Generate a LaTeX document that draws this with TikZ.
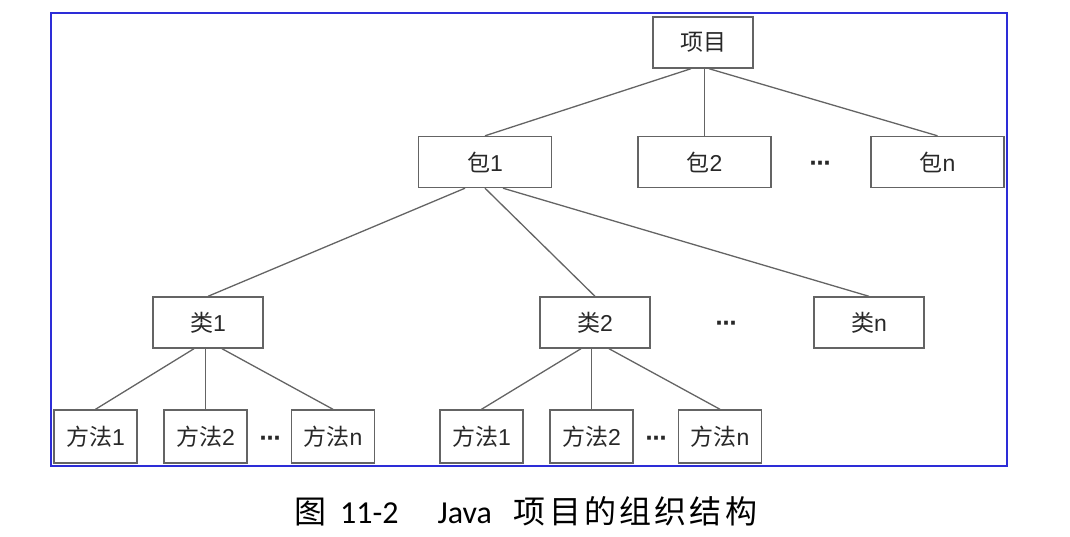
\documentclass[tikz,border=0pt]{standalone}
\usepackage{fontspec}
\setmainfont{Liberation Sans}
\newfontfamily\cjk{Noto Sans CJK SC}
\newfontfamily\capcjk[LetterSpace=10]{Noto Sans CJK SC}
\newfontfamily\capfont{Carlito}
\newfontfamily\dotfont{DejaVu Sans}
\usetikzlibrary{positioning}
\definecolor{framecol}{RGB}{45,45,215}
\definecolor{boxcol}{RGB}{100,100,100}
\definecolor{labelcol}{RGB}{40,40,40}
\newcommand{\zh}[1]{{\cjk #1}}

\begin{document}
\begin{tikzpicture}[
    x=1pt, y=-1pt,
    box/.style={draw=boxcol, line width=1.4pt, inner sep=0pt, minimum height=51pt,
        text=labelcol, font=\fontsize{23}{23}\selectfont},
    pkg/.style={box, minimum width=133pt},
    cls/.style={box, minimum width=110pt},
    mtd/.style={box, minimum width=83pt, minimum height=53pt},
    more/.style={inner sep=0pt, yshift=-4pt, text=labelcol, font=\dotfont\bfseries\fontsize{21}{21}\selectfont},
    link/.style={draw=boxcol, line width=1.3pt}
]
\useasboundingbox (0,0) rectangle (1070,536);
\draw[framecol, line width=2.2pt] (51,13) rectangle (1007,466);

\node[box, minimum width=100pt] (proj) at (703,42.5) {\zh{项目}};

\node[pkg] (pkgA) at (485,162) {\zh{包}1};
\node[pkg] (pkgB) at (704.5,162) {\zh{包}2};
\node[more] (pkgDots) at (820,162) {⋯};
\node[pkg] (pkgN) at (937.5,162) {\zh{包}n};

\node[cls] (clsA) at (208,322.5) {\zh{类}1};
\node[cls] (clsB) at (595,322.5) {\zh{类}2};
\node[more] (clsDots) at (726,322) {⋯};
\node[cls] (clsN) at (869,322.5) {\zh{类}n};

\node[mtd] (mtdA1) at (95.5,436.5) {\zh{方法}1};
\node[mtd] (mtdA2) at (205.5,436.5) {\zh{方法}2};
\node[more] (mtdADots) at (270,437) {⋯};
\node[mtd] (mtdAN) at (333,436.5) {\zh{方法}n};

\node[mtd] (mtdB1) at (481.5,436.5) {\zh{方法}1};
\node[mtd] (mtdB2) at (591.5,436.5) {\zh{方法}2};
\node[more] (mtdBDots) at (656,437) {⋯};
\node[mtd] (mtdBN) at (720,436.5) {\zh{方法}n};

\draw[link] ([xshift=-12pt]proj.south) -- (pkgA.north);
\draw[link] (pkgB.north |- proj.south) -- (pkgB.north);
\draw[link] ([xshift=6pt]proj.south) -- (pkgN.north);

\draw[link] ([xshift=-20pt]pkgA.south) -- (clsA.north);
\draw[link] (pkgA.south) -- (clsB.north);
\draw[link] ([xshift=18pt]pkgA.south) -- (clsN.north);

\draw[link] ([xshift=-14pt]clsA.south) -- (mtdA1.north);
\draw[link] (mtdA2.north |- clsA.south) -- (mtdA2.north);
\draw[link] ([xshift=14pt]clsA.south) -- (mtdAN.north);

\draw[link] ([xshift=-14pt]clsB.south) -- (mtdB1.north);
\draw[link] (mtdB2.north |- clsB.south) -- (mtdB2.north);
\draw[link] ([xshift=14pt]clsB.south) -- (mtdBN.north);

\node[anchor=base west, inner sep=0pt, text=black, font=\capfont\fontsize{32}{32}\selectfont]
    (caption) at (294,523)
    {{\capcjk 图}\hspace{14pt}11-2\hspace{39pt}Java\hspace{22pt}{\capcjk 项目的组织结构}};
\end{tikzpicture}
\end{document}
